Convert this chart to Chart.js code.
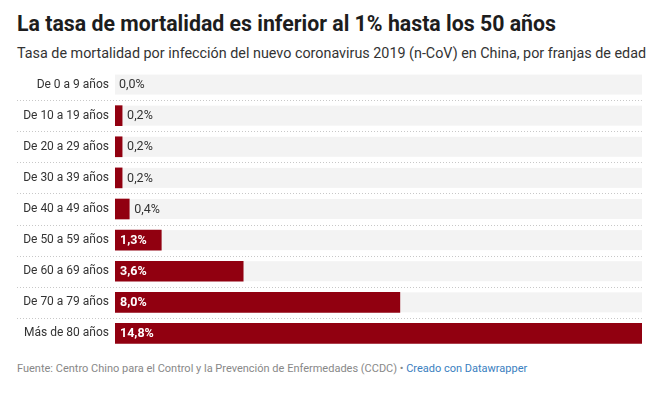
<!DOCTYPE html>
<html>
<head>
<meta charset="utf-8">
<script src="https://cdn.jsdelivr.net/npm/chart.js@4/dist/chart.umd.min.js"></script>
<style>
  body { margin: 0; background: #fff; font-family: Roboto, sans-serif; }
  #wrap { position: relative; width: 661px; height: 396px; }
  h1 { position: absolute; left: 17px; top: 11px; margin: 0; font-size: 21.3px; font-weight: 700; color: #1d1d1d; white-space: nowrap; }
  .sub { position: absolute; left: 17px; top: 45px; font-size: 14.35px; color: #333; white-space: nowrap; }
  .foot { position: absolute; left: 17px; top: 362px; font-size: 11px; color: #888; white-space: nowrap; }
  .foot span { color: #3a80c0; }
  #box { position: absolute; left: 0; top: 69px; width: 661px; height: 280px; }
</style>
</head>
<body>
<div id="wrap">
  <h1>La tasa de mortalidad es inferior al 1% hasta los 50 años</h1>
  <div class="sub">Tasa de mortalidad por infección del nuevo coronavirus 2019 (n-CoV) en China, por franjas de edad</div>
  <div id="box"><canvas id="grafico"></canvas></div>
  <div class="foot">Fuente: Centro Chino para el Control y la Prevención de Enfermedades (CCDC) • <span>Creado con Datawrapper</span></div>
</div>
<script>
// Datos: tasa de mortalidad por edad
const franjas = ['De 0 a 9 años', 'De 10 a 19 años', 'De 20 a 29 años', 'De 30 a 39 años',
  'De 40 a 49 años', 'De 50 a 59 años', 'De 60 a 69 años', 'De 70 a 79 años', 'Más de 80 años'];
const tasas = [0.0, 0.2, 0.2, 0.2, 0.4, 1.3, 3.6, 8.0, 14.8];
const maximo = 14.8;

const fmt = v => v.toFixed(1).replace('.', ',') + '%';

// fondo gris de cada fila + separadores punteados
const fondoFilas = {
  id: 'fondoFilas',
  beforeDatasetsDraw(chart) {
    const { ctx, chartArea, scales } = chart;
    const meta = chart.getDatasetMeta(0);
    ctx.save();
    meta.data.forEach((bar, i) => {
      const h = bar.height;
      ctx.fillStyle = '#f3f3f3';
      ctx.fillRect(chartArea.left, bar.y - h / 2, chartArea.right - chartArea.left, h);
      if (i < meta.data.length - 1) {
        const ySep = Math.round((scales.y.getPixelForValue(i) + scales.y.getPixelForValue(i + 1)) / 2) + 0.5;
        ctx.strokeStyle = '#c8c8c8';
        ctx.setLineDash([1, 2]);
        ctx.lineWidth = 1;
        ctx.beginPath();
        ctx.moveTo(17, ySep);
        ctx.lineTo(chartArea.right, ySep);
        ctx.stroke();
      }
    });
    ctx.restore();
  },
  afterDatasetsDraw(chart) {
    const { ctx, chartArea } = chart;
    const meta = chart.getDatasetMeta(0);
    ctx.save();
    ctx.textBaseline = 'middle';
    meta.data.forEach((bar, i) => {
      const v = tasas[i];
      if (v >= 1) {
        ctx.font = 'bold 12.5px Roboto';
        ctx.fillStyle = '#fff';
        ctx.fillText(fmt(v), chartArea.left + 5, bar.y + 0.5);
      } else {
        ctx.font = '12.5px Roboto';
        ctx.fillStyle = '#333';
        ctx.fillText(fmt(v), bar.x + (v > 0 ? 5 : 4), bar.y + 0.5);
      }
    });
    ctx.restore();
  }
};

new Chart(document.getElementById('grafico'), {
  type: 'bar',
  data: {
    labels: franjas,
    datasets: [{
      data: tasas,
      backgroundColor: c => (tasas[c.dataIndex] > 0 ? '#910010' : 'rgba(0,0,0,0)'),
      barThickness: 20,
      borderWidth: 0
    }]
  },
  options: {
    indexAxis: 'y',
    responsive: true,
    maintainAspectRatio: false,
    animation: false,
    layout: { padding: { left: 0, right: 19, top: 0, bottom: 0 } },
    plugins: { legend: { display: false }, tooltip: { enabled: false } },
    scales: {
      x: { min: 0, max: maximo, display: false },
      y: {
        grid: { display: false, drawTicks: false },
        border: { display: false },
        afterFit(scale) {
          scale.width = 115;
          scale.paddingTop = 0;
          scale.paddingBottom = 0;
        },
        ticks: { color: '#333', padding: 6, font: { family: 'Roboto', size: 12 } }
      }
    }
  },
  plugins: [fondoFilas]
});
</script>
</body>
</html>
